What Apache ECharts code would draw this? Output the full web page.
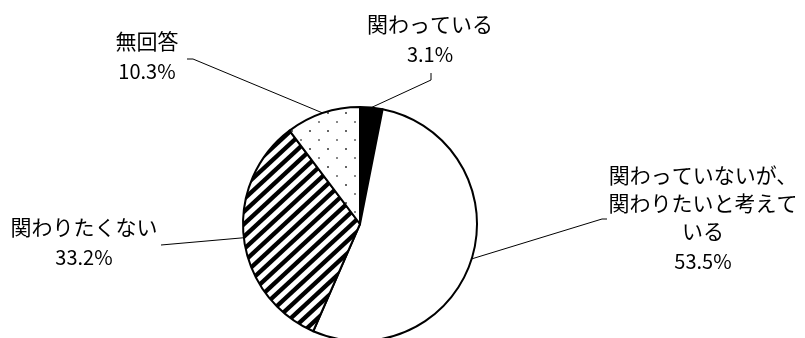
<!DOCTYPE html>
<html>
<head>
<meta charset="utf-8">
<script src="https://cdn.jsdelivr.net/npm/echarts@6/dist/echarts.min.js"></script>
<style>
  html, body { margin: 0; padding: 0; background: #fff; }
  #chart { width: 805px; height: 338px; }
</style>
</head>
<body>
<div id="chart"></div>
<script>
// Data
const categories = [
  '関わっている',
  '関わっていないが、\n関わりたいと考えて\nいる',
  '関わりたくない',
  '無回答',
];
const shares = [3.1, 53.5, 33.2, 10.3];

// Label placement: [centre x, top y] of each label block
const labelSpots = [[430, 10], [703, 161], [84, 213], [147, 27]];
// Where each leader line ends near its label: [elbow, end]
const leaderEnds = [
  [[431, 80], [431, 73]],
  [[602, 219], [607, 219]],
  [[161, 245], [161, 245]],
  [[193, 59], [187, 59]],
];

// diagonal "/" stripes, two per tile so the step can be fractional
const makeHatch = () => {
  const sx = 13.5;
  const sy = 12.5;
  const c = document.createElement('canvas');
  c.width = 27;
  c.height = 25;
  const ctx = c.getContext('2d');
  ctx.fillStyle = '#fff';
  ctx.fillRect(0, 0, c.width, c.height);
  ctx.strokeStyle = '#000';
  ctx.lineWidth = 4.3;
  for (let k = -1; k <= 5; k++) {
    ctx.beginPath();
    ctx.moveTo(k * sx - 3 * sx, 3 * sy);
    ctx.lineTo(k * sx + 3 * sx, -3 * sy);
    ctx.stroke();
  }
  return c;
};

const makeDots = () => {
  const c = document.createElement('canvas');
  c.width = 18;
  c.height = 18;
  const ctx = c.getContext('2d');
  ctx.fillStyle = '#fff';
  ctx.fillRect(0, 0, 18, 18);
  ctx.fillStyle = '#666';
  ctx.fillRect(3, 4, 2, 2);
  ctx.fillStyle = '#888';
  ctx.fillRect(12, 13, 2, 2);
  return c;
};

const fills = [
  '#000',
  '#fff',
  { image: makeHatch(), repeat: 'repeat' },
  { image: makeDots(), repeat: 'repeat' },
];

const chart = echarts.init(document.getElementById('chart'), null, { renderer: 'canvas' });

chart.setOption({
  animation: false,
  series: [
    {
      type: 'pie',
      center: [360, 224],
      radius: [0, 117],
      startAngle: 90,
      clockwise: true,
      avoidLabelOverlap: false,
      data: categories.map((name, i) => ({
        name,
        value: shares[i],
        itemStyle: { color: fills[i] },
      })),
      itemStyle: {
        borderColor: '#000',
        borderWidth: 2,
      },
      emphasis: { disabled: true },
      label: {
        show: true,
        position: 'outside',
        color: '#000',
        fontFamily: '"Noto Sans CJK JP", sans-serif',
        fontSize: 21,
        align: 'center',
        formatter: (p) => `{n|${p.name}}\n{p|${p.value.toFixed(1)}%}`,
        rich: {
          n: { fontSize: 21, lineHeight: 28, align: 'center', color: '#000' },
          p: { fontSize: 20, lineHeight: 32, align: 'center', color: '#000' },
        },
      },
      labelLine: {
        show: true,
        lineStyle: { color: '#000', width: 1 },
      },
      labelLayout: (params) => {
        const i = params.dataIndex;
        const [x, y] = labelSpots[i];
        const start = params.labelLinePoints ? params.labelLinePoints[0] : [x, y];
        return {
          x,
          y,
          align: 'center',
          verticalAlign: 'top',
          labelLinePoints: [start, leaderEnds[i][0], leaderEnds[i][1]],
        };
      },
    },
  ],
});
</script>
</body>
</html>
